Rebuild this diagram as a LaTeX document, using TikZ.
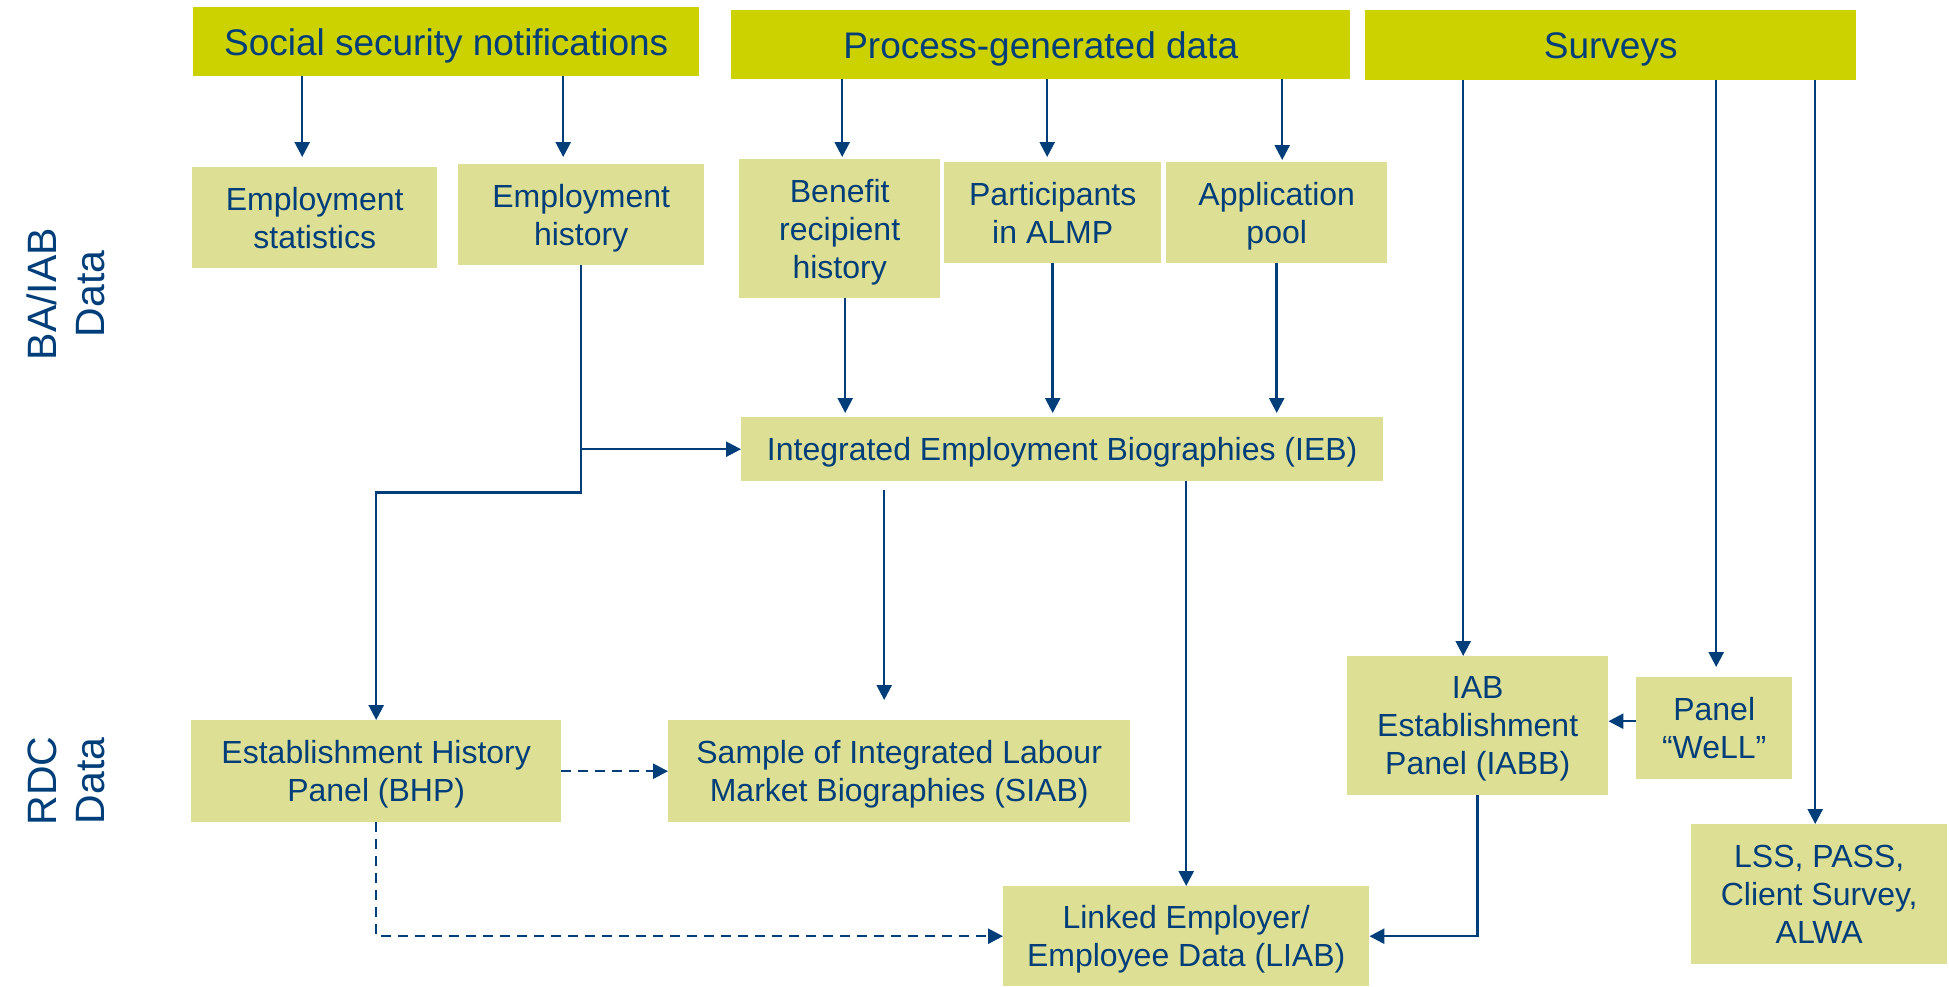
\documentclass[tikz,border=0pt]{standalone}
\usepackage{fontspec}
\setmainfont{Liberation Sans}
\usetikzlibrary{arrows.meta,calc}
\definecolor{iabblue}{RGB}{0,62,122}
\definecolor{hdrgreen}{RGB}{204,209,0}
\definecolor{boxgreen}{RGB}{221,224,148}
\begin{document}
\begin{tikzpicture}[x=1pt,y=-1pt,
 hdr/.style={fill=hdrgreen, text=iabblue, inner sep=0pt, anchor=north west, text depth=0pt, font=\fontsize{37}{44}\selectfont},
 box/.style={fill=boxgreen, text=iabblue, inner sep=0pt, anchor=north west, align=center, text depth=0pt, font=\fontsize{32}{38}\selectfont},
 arr/.style={draw=iabblue, line width=2.5pt, -{Triangle[length=15pt,width=15pt]}},
 dash arr/.style={arr, dash pattern=on 10pt off 7pt},
 side/.style={text=iabblue, rotate=90, align=center, font=\fontsize{41}{48}\selectfont}]
\useasboundingbox (0,0) rectangle (1949,986);

\node[hdr, minimum width=506pt, minimum height=69pt] (ssn) at (193,7) {Social security notifications};
\node[hdr, minimum width=619pt, minimum height=69pt] (pgd) at (731,10) {Process-generated data};
\node[hdr, minimum width=491pt, minimum height=70pt] (surv) at (1365,10) {Surveys};

\node[box, minimum width=245pt, minimum height=101pt] (es) at (192,167) {Employment\\statistics};
\node[box, minimum width=246pt, minimum height=101pt] (eh) at (458,164) {Employment\\history};
\node[box, minimum width=201pt, minimum height=139pt] (ben) at (739,159) {Benefit\\recipient\\history};
\node[box, minimum width=217pt, minimum height=101pt] (alm) at (944,162) {Participants\\in ALMP};
\node[box, minimum width=221pt, minimum height=101pt] (app) at (1166,162) {Application\\pool};
\node[box, minimum width=642pt, minimum height=64pt] (ieb) at (741,417) {Integrated Employment Biographies (IEB)};
\node[box, minimum width=370pt, minimum height=102pt] (bhp) at (191,720) {Establishment History\\Panel (BHP)};
\node[box, minimum width=462pt, minimum height=102pt] (siab) at (668,720) {Sample of Integrated Labour\\Market Biographies (SIAB)};
\node[box, minimum width=261pt, minimum height=139pt] (iabb) at (1347,656) {IAB\\Establishment\\Panel (IABB)};
\node[box, minimum width=156pt, minimum height=102pt] (well) at (1636,677) {Panel\\“WeLL”};
\node[box, minimum width=366pt, minimum height=100pt] (liab) at (1003,886) {Linked Employer/\\Employee Data (LIAB)};
\node[box, minimum width=256pt, minimum height=140pt] (lss) at (1691,824) {LSS, PASS,\\Client Survey,\\ALWA};

\node[side] (ba) at (66,294) {BA/IAB\\Data};
\node[side] (rdc) at (66,781) {RDC\\Data};

\draw[arr, shorten >=10pt] ($(ssn.south -| es.north)+(-12.5,0)$) -- ($(es.north)+(-12.5,0)$);
\draw[arr, shorten >=7pt] ($(ssn.south -| eh.north)+(-18,0)$) -- ($(eh.north)+(-18,0)$);
\draw[arr, shorten >=2pt] ($(pgd.south -| ben.north)+(2.5,0)$) -- ($(ben.north)+(2.5,0)$);
\draw[arr, shorten >=5pt] ($(pgd.south -| alm.north)+(-5.5,0)$) -- ($(alm.north)+(-5.5,0)$);
\draw[arr, shorten >=2pt] ($(pgd.south -| app.north)+(5.5,0)$) -- ($(app.north)+(5.5,0)$);
\draw[arr, shorten >=4pt] ($(ben.south)+(5.5,0)$) -- ($(ieb.north -| ben.south)+(5.5,0)$);
\draw[arr, shorten >=4pt] (alm.south) -- (alm.south |- ieb.north);
\draw[arr, shorten >=4pt] (app.south) -- (app.south |- ieb.north);
\draw[arr] (eh.south) |- (ieb.west);
\draw[arr] (eh.south) -- ++(0,227) -| (bhp.north);
\draw[arr, shorten <=9pt, shorten >=20pt] ($(ieb.south)+(-178,0)$) -- ($(siab.north)+(-15,0)$);
\draw[arr] (ieb.south -| liab.north) -- (liab.north);
\draw[dash arr] (bhp.east) -- (siab.west);
\draw[dash arr] (bhp.south) |- (liab.west);
\draw[arr] ($(surv.south -| iabb.north)+(-14.5,0)$) -- ($(iabb.north)+(-14.5,0)$);
\draw[arr, shorten >=10pt] ($(surv.south -| well.north)+(2,0)$) -- ($(well.north)+(2,0)$);
\draw[arr] ($(surv.south -| lss.north)+(-4,0)$) -- ($(lss.north)+(-4,0)$);
\draw[arr] ($(well.west)+(0,-7)$) -- ($(well.west -| iabb.east)+(0,-7)$);
\draw[arr] (iabb.south) |- (liab.east);
\end{tikzpicture}
\end{document}
